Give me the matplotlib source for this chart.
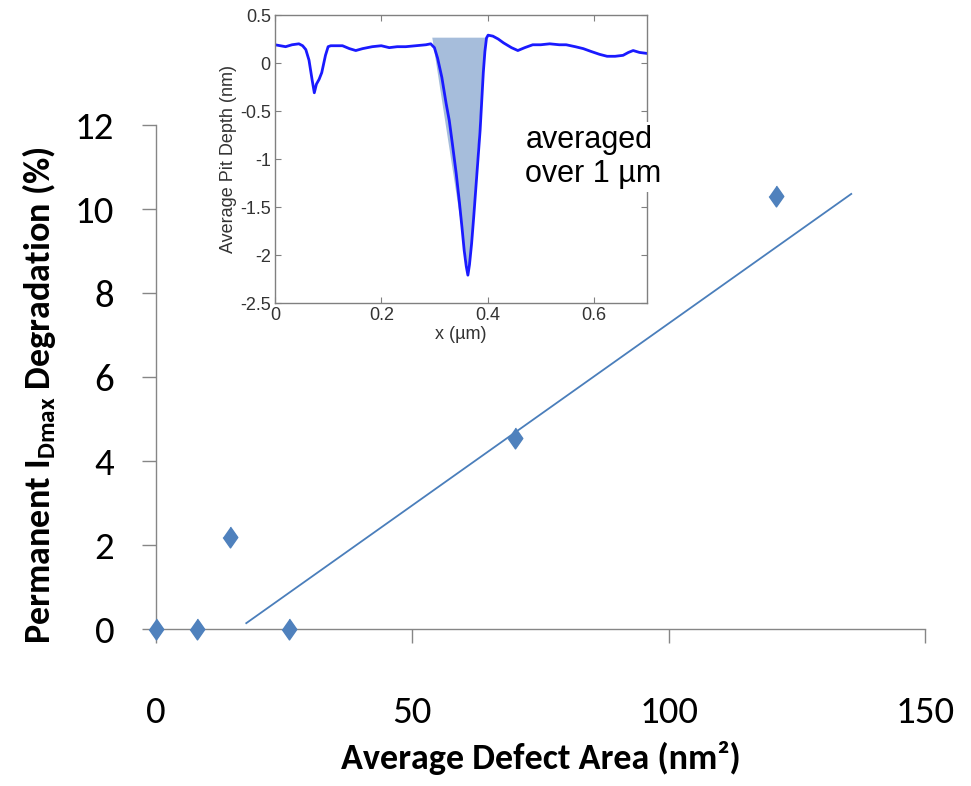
"""Permanent IDmax degradation vs average defect area, with pit-depth inset."""

import matplotlib
matplotlib.use("Agg")
import matplotlib.pyplot as plt
from matplotlib import font_manager

# main scatter
defect_area = [0, 8, 14.5, 26, 70, 121]
degradation = [0, 0, 2.2, 0, 4.55, 10.3]
# trend line end points as drawn
trend_x = [17.6, 135.6]
trend_y = [0.14, 10.36]

# inset: average pit depth profile
profile_x = [0.0, 0.010, 0.020, 0.032, 0.045, 0.052, 0.058, 0.064, 0.070, 0.074, 0.078,
             0.083, 0.088, 0.095, 0.100, 0.105, 0.115, 0.127, 0.140, 0.152, 0.165,
             0.183, 0.200, 0.215, 0.230, 0.246, 0.265, 0.284, 0.293, 0.300, 0.306,
             0.314, 0.322, 0.328, 0.334, 0.341, 0.347, 0.352, 0.356, 0.360, 0.363,
             0.366, 0.370, 0.374, 0.378, 0.382, 0.386, 0.389, 0.392, 0.395, 0.398,
             0.401, 0.410, 0.420, 0.430, 0.445, 0.457, 0.470, 0.485, 0.500, 0.517,
             0.535, 0.548, 0.565, 0.580, 0.595, 0.611, 0.625, 0.640, 0.655, 0.665,
             0.674, 0.686, 0.700]
profile_y = [0.19, 0.18, 0.17, 0.19, 0.20, 0.18, 0.14, 0.03, -0.18, -0.31, -0.22,
             -0.17, -0.10, 0.08, 0.17, 0.18, 0.18, 0.18, 0.15, 0.13, 0.15,
             0.17, 0.18, 0.16, 0.17, 0.17, 0.18, 0.19, 0.20, 0.16, 0.05,
             -0.15, -0.42, -0.60, -0.85, -1.15, -1.45, -1.72, -1.95, -2.12, -2.21,
             -2.10, -1.88, -1.60, -1.30, -1.00, -0.70, -0.40, -0.10, 0.12, 0.26,
             0.29, 0.28, 0.25, 0.21, 0.16, 0.13, 0.16, 0.19, 0.19, 0.20,
             0.19, 0.19, 0.17, 0.15, 0.12, 0.09, 0.07, 0.07, 0.08, 0.11,
             0.13, 0.11, 0.10]
# shaded pit area (triangle as drawn)
fill_x = [0.296, 0.396, 0.365]
fill_y = [0.264, 0.264, -2.21]

x_ticks = [0, 50, 100, 150]
y_ticks = [0, 2, 4, 6, 8, 10, 12]
inset_xticks = [0, 0.2, 0.4, 0.6]
inset_yticks = [0.5, 0, -0.5, -1, -1.5, -2, -2.5]


def pick_font(names):
    available = {f.name for f in font_manager.fontManager.ttflist}
    for name in names:
        if name in available:
            return name
    return "DejaVu Sans"


MAIN_FONT = pick_font(["Carlito", "Liberation Sans Narrow", "Lato", "Open Sans"])
INSET_FONT = pick_font(["Liberation Sans", "Arial", "DejaVu Sans"])

plt.rcParams["axes.unicode_minus"] = False
plt.rcParams["mathtext.fontset"] = "custom"
plt.rcParams["mathtext.rm"] = f"{MAIN_FONT}:bold"
plt.rcParams["mathtext.it"] = f"{MAIN_FONT}:bold"
plt.rcParams["mathtext.bf"] = f"{MAIN_FONT}:bold"

BLUE = "#4f81bd"
AXIS_GRAY = "#868686"

fig = plt.figure(figsize=(9.71, 7.86), dpi=100)
ax = fig.add_axes([0.1607, 0.1997, 0.7920, 0.6412])

marker = [(0, 1), (0.7, 0), (0, -1), (-0.7, 0)]
ax.plot(defect_area, degradation, linestyle="none", marker=marker, markersize=15,
        color=BLUE, clip_on=False, zorder=3)
ax.plot(trend_x, trend_y, color="#4a7ebb", linewidth=1.3)

ax.set_xlim(0, 150)
ax.set_ylim(0, 12)
ax.set_xticks(x_ticks)
ax.set_yticks(y_ticks)
for side in ["top", "right"]:
    ax.spines[side].set_visible(False)
for side in ["left", "bottom"]:
    ax.spines[side].set_color(AXIS_GRAY)
    ax.spines[side].set_linewidth(1.0)
ax.tick_params(axis="y", direction="out", length=10, width=1, color=AXIS_GRAY,
               pad=20, labelsize=28)
ax.tick_params(axis="x", direction="out", length=10, width=1, color=AXIS_GRAY,
               pad=38, labelsize=28)
for lab in ax.get_xticklabels() + ax.get_yticklabels():
    lab.set_fontfamily(MAIN_FONT)

fig.text(0.557, 0.022, "Average Defect Area (nm²)", ha="center", va="baseline",
         fontsize=26, fontweight="bold", family=MAIN_FONT)
fig.text(0.040, 0.497, r"Permanent I$_{Dmax}$ Degradation (%)", ha="center", va="center",
         rotation=90, fontsize=26, fontweight="bold", family=MAIN_FONT)

# inset
ins = fig.add_axes([0.2832, 0.6145, 0.3831, 0.3664])
ins.fill(fill_x, fill_y, color="#a6bddb", linewidth=0)
ins.plot(profile_x, profile_y, color="#1a1aff", linewidth=2)
ins.set_xlim(0, 0.7)
ins.set_ylim(-2.5, 0.5)
ins.set_xticks(inset_xticks)
ins.set_xticklabels(["0", "0.2", "0.4", "0.6"])
ins.set_yticks(inset_yticks)
ins.set_yticklabels(["0.5", "0", "-0.5", "-1", "-1.5", "-2", "-2.5"])
for s in ins.spines.values():
    s.set_color("#808080")
    s.set_linewidth(1.0)
ins.tick_params(direction="in", length=4, top=True, right=True, color="#808080",
                labelsize=13, labelcolor="#333333", pad=3)
for lab in ins.get_xticklabels() + ins.get_yticklabels():
    lab.set_fontfamily(INSET_FONT)
ins.set_xlabel("x (µm)", fontsize=13, color="#333333", family=INSET_FONT, labelpad=1)
ins.set_ylabel("Average Pit Depth (nm)", fontsize=13, color="#333333",
               family=INSET_FONT, labelpad=2)

fig.text(0.541, 0.800, "averaged\nover 1 µm", ha="left", va="center", fontsize=22,
         family=INSET_FONT, linespacing=1.2,
         bbox=dict(facecolor="white", edgecolor="none", pad=2))

fig.savefig("out.png", dpi=100)
